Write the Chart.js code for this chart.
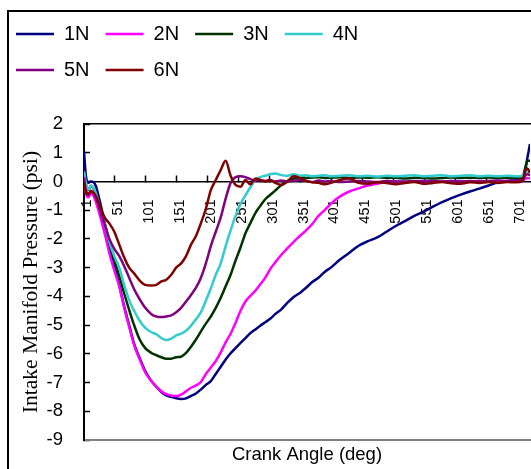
<!DOCTYPE html>
<html>
<head>
<meta charset="utf-8">
<script src="https://cdn.jsdelivr.net/npm/chart.js@4/dist/chart.umd.min.js"></script>
<style>
html, body { margin: 0; padding: 0; background: #fff; overflow: hidden; width: 531px; height: 469px; }
#frame { position: absolute; left: 7px; top: 10px; width: 700px; height: 700px; border: 2px solid #000; box-sizing: border-box; }
#wrap { position: absolute; left: 0; top: 0; width: 531px; height: 469px; }
</style>
</head>
<body>
<div id="frame"></div>
<div id="wrap"><canvas id="c" width="531" height="469"></canvas></div>
<script>
// ---- data ----
const ANGLES = [1, 4, 8, 12, 16, 20, 25, 30, 36, 42,
  50, 58, 66, 74, 82, 91, 100, 110, 118, 126,
  134, 142, 150, 158, 166, 174, 182, 190, 198, 206,
  214, 222, 230, 238, 246, 254, 262, 270, 278, 286,
  294, 302, 310, 320, 330, 340, 350, 360, 370, 380,
  390, 400, 415, 430, 445, 460, 475, 490, 505, 520,
  535, 550, 565, 580, 595, 610, 625, 640, 655, 670,
  685, 700, 710, 714, 718, 722];

const SERIES_NAMES = ['1N', '2N', '3N', '4N', '5N', '6N'];
const SERIES_COLORS = ['#000080', '#FF00FF', '#003300', '#33CCCC', '#800080', '#800000'];

const P_1N = [1.05, 0.2, -0.05, 0.0, -0.02, -0.15, -0.55, -1.0, -1.6, -2.2,
  -2.95, -3.6, -4.35, -5.0, -5.65, -6.15, -6.6, -6.95, -7.15, -7.33,
  -7.45, -7.5, -7.55, -7.57, -7.55, -7.47, -7.38, -7.24, -7.08, -6.95,
  -6.7, -6.45, -6.2, -5.98, -5.8, -5.62, -5.45, -5.28, -5.15, -5.02,
  -4.9, -4.78, -4.62, -4.45, -4.22, -4.02, -3.88, -3.7, -3.5, -3.35,
  -3.15, -3.0, -2.72, -2.48, -2.24, -2.08, -1.95, -1.75, -1.55, -1.38,
  -1.2, -1.05, -0.88, -0.72, -0.58, -0.46, -0.35, -0.25, -0.14, -0.03,
  0.02, 0.04, 0.08, 0.35, 0.85, 1.3];

const P_2N = [0.35, -0.4, -0.55, -0.42, -0.48, -0.7, -1.05, -1.45, -1.95, -2.5,
  -3.1, -3.66, -4.4, -5.06, -5.7, -6.2, -6.65, -6.95, -7.14, -7.3,
  -7.4, -7.45, -7.47, -7.42, -7.3, -7.18, -7.1, -6.98, -6.7, -6.48,
  -6.25, -5.95, -5.6, -5.3, -4.92, -4.5, -4.18, -3.98, -3.8, -3.58,
  -3.35, -3.05, -2.82, -2.55, -2.32, -2.1, -1.9, -1.7, -1.48, -1.2,
  -1.0, -0.78, -0.52, -0.35, -0.24, -0.14, -0.08, 0.0, 0.0, -0.02,
  0.0, 0.02, 0.0, 0.0, 0.02, 0.0, 0.0, 0.02, 0.0, 0.02,
  0.0, 0.02, 0.02, 0.1, 0.12, 0.1];

const P_3N = [0.3, -0.1, -0.3, -0.15, -0.22, -0.45, -0.8, -1.2, -1.6, -2.15,
  -2.75, -3.3, -3.9, -4.47, -5.0, -5.5, -5.8, -5.97, -6.05, -6.12,
  -6.17, -6.17, -6.12, -6.1, -5.97, -5.75, -5.5, -5.22, -4.95, -4.7,
  -4.4, -4.05, -3.65, -3.25, -2.75, -2.3, -1.8, -1.45, -1.1, -0.85,
  -0.62, -0.47, -0.32, -0.12, 0.02, 0.1, 0.15, 0.12, 0.14, 0.15,
  0.12, 0.13, 0.15, 0.12, 0.14, 0.13, 0.15, 0.12, 0.13, 0.1,
  0.13, 0.12, 0.1, 0.12, 0.14, 0.12, 0.13, 0.12, 0.14, 0.12,
  0.13, 0.12, 0.14, 0.45, 0.72, 0.72];

const P_4N = [0.35, -0.05, -0.28, -0.15, -0.2, -0.4, -0.75, -1.15, -1.6, -2.1,
  -2.6, -3.0, -3.6, -4.13, -4.5, -4.85, -5.1, -5.25, -5.32, -5.45,
  -5.52, -5.47, -5.36, -5.3, -5.2, -5.02, -4.8, -4.55, -4.15, -3.72,
  -3.25, -2.85, -2.25, -1.7, -1.2, -0.78, -0.48, -0.2, 0.05, 0.15,
  0.2, 0.25, 0.28, 0.22, 0.2, 0.25, 0.2, 0.22, 0.18, 0.2,
  0.22, 0.18, 0.2, 0.22, 0.18, 0.2, 0.17, 0.2, 0.18, 0.2,
  0.22, 0.18, 0.2, 0.22, 0.18, 0.2, 0.22, 0.18, 0.2, 0.18,
  0.2, 0.18, 0.2, 0.3, 0.35, 0.3];

const P_5N = [0.15, -0.3, -0.45, -0.35, -0.4, -0.55, -0.85, -1.2, -1.6, -2.0,
  -2.35, -2.6, -2.95, -3.35, -3.75, -4.1, -4.4, -4.62, -4.7, -4.72,
  -4.7, -4.66, -4.55, -4.4, -4.18, -3.95, -3.7, -3.35, -2.85, -2.25,
  -1.75, -1.25, -0.6, -0.05, 0.15, 0.18, 0.15, 0.08, 0.03, 0.05,
  0.02, 0.04, 0.0, 0.03, 0.0, 0.02, 0.05, 0.02, -0.02, 0.03,
  0.0, 0.02, -0.02, 0.0, 0.02, 0.0, -0.02, 0.02, 0.0, 0.0,
  0.02, 0.0, 0.02, 0.0, 0.02, 0.0, 0.02, 0.0, 0.02, 0.03,
  0.02, 0.03, 0.05, 0.2, 0.25, 0.22];

const P_6N = [-0.05, -0.35, -0.45, -0.32, -0.38, -0.5, -0.75, -1.05, -1.3, -1.46,
  -1.75, -2.2, -2.65, -3.0, -3.2, -3.45, -3.6, -3.62, -3.6, -3.48,
  -3.42, -3.25, -3.0, -2.85, -2.6, -2.2, -1.9, -1.45, -0.95, -0.3,
  0.05, 0.4, 0.72, 0.2, -0.12, -0.18, 0.05, -0.1, 0.1, 0.05,
  0.0, 0.05, -0.05, -0.12, 0.0, 0.18, 0.12, 0.02, -0.03, -0.05,
  -0.1, -0.05, 0.05, 0.1, -0.05, -0.08, -0.03, -0.05, -0.1, -0.05,
  -0.02, -0.08, -0.05, -0.02, -0.06, -0.08, -0.03, -0.05, -0.02, -0.05,
  -0.02, -0.03, 0.02, 0.35, 0.45, 0.3];

const SERIES_VALUES = [P_1N, P_2N, P_3N, P_4N, P_5N, P_6N];

const X_TICKS = [1, 51, 101, 151, 201, 251, 301, 351, 401, 451, 501, 551, 601, 651, 701];
const Y_TICKS = [-9, -8, -7, -6, -5, -4, -3, -2, -1, 0, 1, 2];

// ---- chart ----
const SANS = "'Liberation Sans', Arial, Helvetica, sans-serif";
const SERIF = "'Liberation Serif', 'Times New Roman', serif";
const LEGEND_WRAP_WIDTH = 440;

const legendWrap = {
  id: 'legendWrap',
  afterLayout(chart) {
    const lg = chart.legend;
    if (lg) { lg.right = lg.left + LEGEND_WRAP_WIDTH; lg.width = LEGEND_WRAP_WIDTH; }
  }
};

const datasets = SERIES_NAMES.map((name, i) => ({
  label: name,
  data: ANGLES.map((a, j) => ({ x: a, y: SERIES_VALUES[i][j] })),
  borderColor: SERIES_COLORS[i],
  backgroundColor: SERIES_COLORS[i],
  borderWidth: 2.5,
  pointRadius: 0,
  fill: false,
  cubicInterpolationMode: 'monotone',
  order: SERIES_NAMES.length - i,
  xAxisID: 'x',
  yAxisID: 'y'
}));

new Chart(document.getElementById('c'), {
  type: 'line',
  data: { datasets },
  options: {
    responsive: false,
    animation: false,
    devicePixelRatio: 1,
    layout: { padding: { top: 8, left: 0, right: 1, bottom: 0 } },
    plugins: {
      tooltip: { enabled: false },
      legend: {
        position: 'top',
        align: 'start',
        labels: {
          usePointStyle: true,
          pointStyle: 'line',
          pointStyleWidth: 38,
          padding: 16,
          color: '#000',
          font: { family: SANS, size: 20 },
          sort: (a, b) => a.datasetIndex - b.datasetIndex
        }
      }
    },
    scales: {
      x: {
        type: 'linear',
        position: { y: 0 },
        min: 1, max: 722,
        afterBuildTicks: s => { s.ticks = X_TICKS.map(v => ({ value: v })); },
        afterFit: s => { s.paddingLeft = 0; s.paddingRight = 0; s.paddingTop = 0; s.paddingBottom = 0; },
        grid: { drawOnChartArea: false, drawTicks: true, tickLength: -7, tickColor: '#000', tickWidth: 1.5, color: '#000' },
        border: { display: true, color: '#000', width: 1.5 },
        ticks: { autoSkip: false, minRotation: 90, maxRotation: 90, padding: 25, labelOffset: 3, color: '#000', font: { family: SANS, size: 14.5 } }
      },
      xTop: {
        type: 'linear', position: 'top', min: 1, max: 722,
        ticks: { display: false },
        grid: { display: false, drawTicks: false },
        border: { display: true, color: '#000', width: 1.5 },
        afterFit: s => { s.height = 34; s.paddingLeft = 0; s.paddingRight = 0; }
      },
      xBottom: {
        type: 'linear', position: 'bottom', min: 1, max: 722,
        ticks: { display: false },
        grid: { display: false, drawTicks: false },
        border: { display: true, color: '#808080', width: 2 },
        title: { display: true, text: 'Crank Angle (deg)', color: '#000', font: { family: SANS, size: 18.5 }, padding: { top: 4, bottom: 3 } },
        afterFit: s => { s.height = 29; s.paddingLeft = 0; s.paddingRight = 0; }
      },
      y: {
        type: 'linear', position: 'left', min: -9, max: 2,
        afterBuildTicks: s => { s.ticks = Y_TICKS.map(v => ({ value: v })); },
        afterFit: s => { s.width = 84; s.paddingTop = 0; s.paddingBottom = 0; },
        grid: { drawOnChartArea: false, drawTicks: true, tickLength: -6, tickColor: '#000', tickWidth: 1.5, color: '#000' },
        border: { display: true, color: '#000', width: 2 },
        ticks: { padding: 27, color: '#000', font: { family: SANS, size: 18.5 } },
        title: { display: true, text: 'Intake Manifold Pressure (psi)', color: '#000', font: { family: SERIF, size: 21.5 }, padding: { top: 18, bottom: 0 } }
      }
    }
  },
  plugins: [legendWrap]
});
</script>
</body>
</html>
